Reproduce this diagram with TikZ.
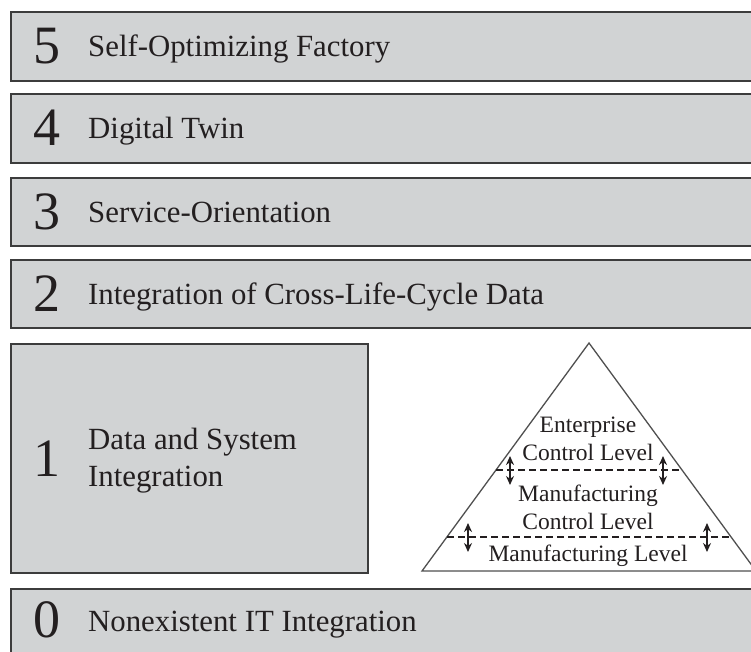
\documentclass[tikz,border=0pt]{standalone}
\usepackage{fontspec}
\setmainfont{Liberation Serif}
\usetikzlibrary{arrows.meta}
\definecolor{boxfill}{RGB}{209,211,212}
\definecolor{boxline}{RGB}{60,60,60}
\definecolor{inktext}{RGB}{35,31,32}

\begin{document}
\begin{tikzpicture}[x=1pt,y=-1pt,
  levelbox/.style={draw=boxline,fill=boxfill,line width=2pt,anchor=north west,inner sep=0pt,minimum width=780pt},
  levelnum/.style={anchor=base,inner sep=0pt,text=inktext,font=\fontsize{54}{54}\selectfont},
  levelname/.style={anchor=base west,inner sep=0pt,text=inktext,align=left,font=\fontsize{30.8}{37}\selectfont},
  pyrtext/.style={inner sep=0pt,text=inktext,align=center,font=\fontsize{23.5}{28}\selectfont},
  pyrline/.style={draw=boxline!90,line width=1.3pt,fill=white},
  levelcut/.style={draw=inktext,line width=1.1pt,dash pattern=on 7pt off 4pt},
  updown/.style={{Stealth[length=9pt,width=8pt]}-{Stealth[length=9pt,width=8pt]},line width=1.5pt,draw=inktext}]
  \useasboundingbox (0,0) rectangle (751,651);
  \clip (0,0) rectangle (751,651);

  % stages
  \node[levelbox,minimum height=69pt] (l5) at (10,11){};
  \node[levelbox,minimum height=69pt] (l4) at (10,93){};
  \node[levelbox,minimum height=68pt] (l3) at (10,177){};
  \node[levelbox,minimum height=68pt] (l2) at (10,259){};
  \node[levelbox,minimum height=229pt,minimum width=357pt] (l1) at (10,343){};
  \node[levelbox,minimum height=69pt] (l0) at (10,588){};

  \node[levelnum] (n5) at (47,63.5){5};
  \node[levelnum] (n4) at (47,145.5){4};
  \node[levelnum] (n3) at (47,229){3};
  \node[levelnum] (n2) at (47,311){2};
  \node[levelnum] (n1) at (47,476){1};
  \node[levelnum] (n0) at (47,637){0};

  \node[levelname] (t5) at (88,56.5){Self-Optimizing Factory};
  \node[levelname] (t4) at (88,138.5){Digital Twin};
  \node[levelname] (t3) at (88,222){Service-Orientation};
  \node[levelname] (t2) at (88,304){Integration of Cross-Life-Cycle Data};
  \node[levelname,anchor=west] (t1) at (88,461){Data and System\\Integration};
  \node[levelname] (t0) at (88,631){Nonexistent IT Integration};

  % automation pyramid
  \coordinate (apex) at (589,343);
  \coordinate (pl) at (422,571);
  \coordinate (pr) at (756,571);
  \draw[pyrline] (pl)--(apex)--(pr)--cycle;

  \coordinate (c1l) at (496,470);
  \coordinate (c1r) at (682,470);
  \coordinate (c2l) at (447,537);
  \coordinate (c2r) at (731,537);
  \draw[levelcut] (c1l)--(c1r)(c2l)--(c2r);

  \node[pyrtext] (ecl) at (588,439){Enterprise\\Control Level};
  \node[pyrtext] (mcl) at (588,507){Manufacturing\\Control Level};
  \node[pyrtext] (ml) at (588,556){Manufacturing Level};

  \coordinate (a1t) at (510,456);
  \coordinate (a1b) at (510,485);
  \coordinate (a2t) at (663,456);
  \coordinate (a2b) at (663,485);
  \coordinate (a3t) at (468,523);
  \coordinate (a3b) at (468,552);
  \coordinate (a4t) at (707,523);
  \coordinate (a4b) at (707,552);
  \draw[updown] (a1t)--(a1b);
  \draw[updown] (a2t)--(a2b);
  \draw[updown] (a3t)--(a3b);
  \draw[updown] (a4t)--(a4b);
\end{tikzpicture}
\end{document}
